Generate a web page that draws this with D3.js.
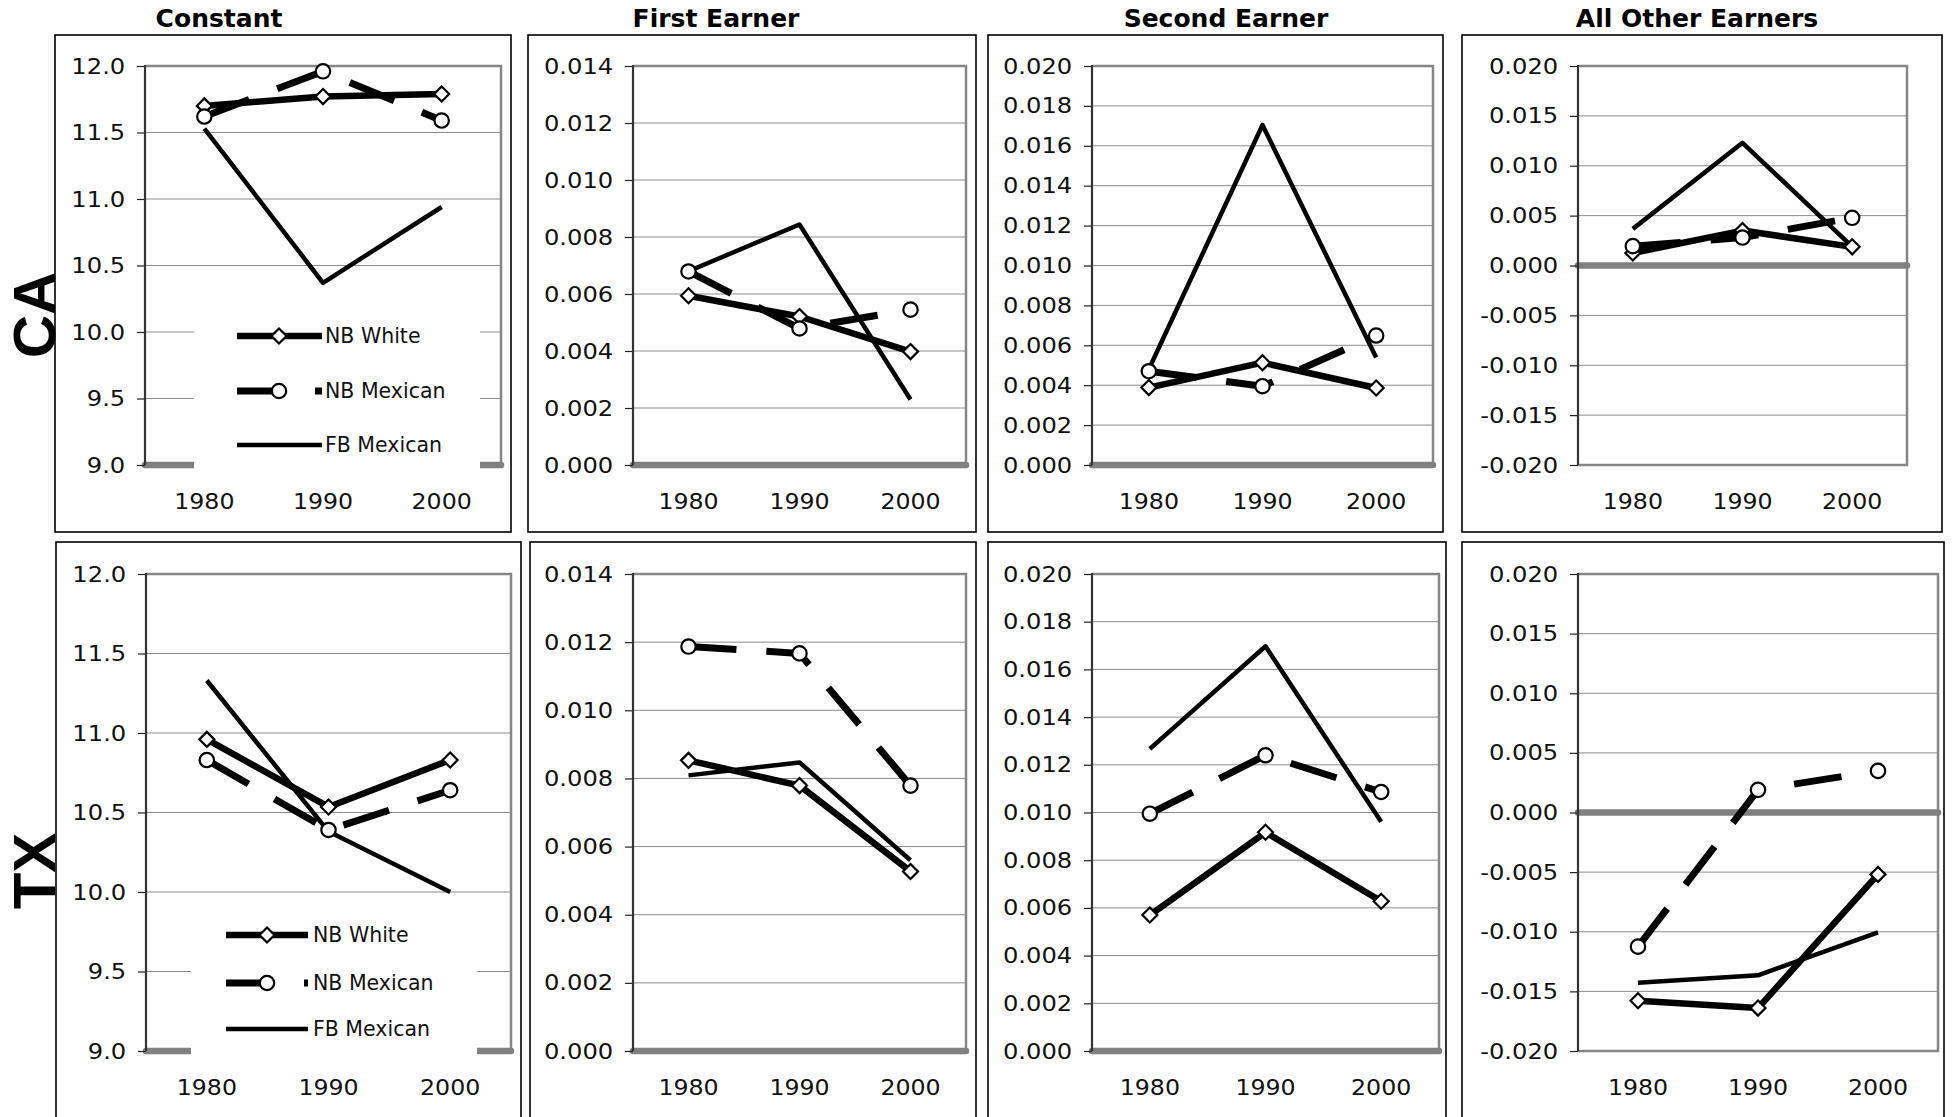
<!DOCTYPE html>
<html><head><meta charset="utf-8">
<script src="https://cdn.jsdelivr.net/npm/d3@7"></script>
<style>
html,body{margin:0;padding:0;background:#fff;}
svg{display:block;}
</style></head><body>
<svg id="chart" width="1954" height="1117"></svg>
<script>
// ---------- DATA ----------
const years = ["1980", "1990", "2000"];
const seriesNames = ["NB White", "NB Mexican", "FB Mexican"];
const panelTitles = ["Constant", "First Earner", "Second Earner", "All Other Earners"];
const states = ["CA", "TX"];
const yDomains = [[9, 12], [0, 0.014], [0, 0.020], [-0.020, 0.020]];
const yTickSteps = [0.5, 0.002, 0.002, 0.005];
const yTickDecimals = [1, 3, 3, 3];

// each: [Constant, First Earner, Second Earner, All Other Earners], values for 1980, 1990, 2000
const caNBWhite   = [[11.70, 11.77, 11.79], [0.00594, 0.00521, 0.00398], [0.00388, 0.00513, 0.00386], [0.00125, 0.00350, 0.00187]];
const caNBMexican = [[11.62, 11.96, 11.59], [0.00679, 0.00479, 0.00545], [0.00470, 0.00395, 0.00649], [0.00194, 0.00280, 0.00478]];
const caFBMexican = [[11.53, 10.37, 10.94], [0.00680, 0.00844, 0.00230], [0.00480, 0.01704, 0.00539], [0.00367, 0.01230, 0.00190]];
const txNBWhite   = [[10.96, 10.535, 10.83], [0.00853, 0.00779, 0.00527], [0.00570, 0.00917, 0.00628], [-0.01578, -0.01640, -0.00519]];
const txNBMexican = [[10.83, 10.39, 10.64], [0.01187, 0.01167, 0.00779], [0.00995, 0.01240, 0.01086], [-0.01125, 0.00190, 0.00349]];
const txFBMexican = [[11.33, 10.38, 10.00], [0.00809, 0.00847, 0.00560], [0.01267, 0.01697, 0.00961], [-0.01428, -0.01365, -0.01006]];

// ---------- LAYOUT ----------
const rows = [
  {boxTop: 35, boxBottom: 532, plotTop: 66, plotBottom: 465, labelY: 509, stateY: 315,
   cols: [{box: [55, 511], plot: [145, 501], title: 219},
          {box: [528, 976], plot: [633, 966], title: 716},
          {box: [988, 1443], plot: [1092, 1433], title: 1226},
          {box: [1462, 1942], plot: [1578, 1907], title: 1697}],
   legend: {x0: 194, x1: 480, y0: 309, y1: 470, itemY: [336, 391, 445], lineX: [237, 322], markX: 279, textX: 325}},
  {boxTop: 542, boxBottom: 1140, plotTop: 574, plotBottom: 1051, labelY: 1095, stateY: 871,
   cols: [{box: [56, 521], plot: [146, 511]},
          {box: [530, 976], plot: [633, 966]},
          {box: [988, 1446], plot: [1092, 1439]},
          {box: [1462, 1944], plot: [1578, 1938]}],
   legend: {x0: 191, x1: 477, y0: 911, y1: 1057, itemY: [935, 983, 1029], lineX: [226, 308], markX: 267, textX: 313}}
];
const styles = [
  {w: 6.5, dash: null, marker: "diamond"},
  {w: 7, dash: "48,30", marker: "circle"},
  {w: 4.5, dash: null, marker: null}
];
const FONT = "'DejaVu Sans', Verdana, sans-serif";
const SX = 1.1;
const dataByState = [[caNBWhite, caNBMexican, caFBMexican], [txNBWhite, txNBMexican, txFBMexican]];

const svg = d3.select("#chart");

function drawMarker(sel, type, cx, cy) {
  if (type === "diamond") {
    sel.append("path").attr("d", "M0,-7.5L7.5,0L0,7.5L-7.5,0Z")
      .attr("transform", `translate(${cx},${cy})`)
      .attr("fill", "#fff").attr("stroke", "#000").attr("stroke-width", 2.2);
  } else if (type === "circle") {
    sel.append("circle").attr("cx", cx).attr("cy", cy).attr("r", 7.2)
      .attr("fill", "#fff").attr("stroke", "#000").attr("stroke-width", 2.2);
  }
}

// titles
rows[0].cols.forEach((c, i) => {
  svg.append("text").attr("x", c.title).attr("y", 27)
    .attr("text-anchor", "middle").attr("font-family", FONT).attr("font-weight", "bold")
    .attr("font-size", 25).attr("fill", "#000").text(panelTitles[i]);
});

rows.forEach((r, ri) => {
  // state label
  svg.append("text").attr("transform", `translate(55,${r.stateY}) rotate(-90)`)
    .attr("text-anchor", "middle").attr("font-family", "'Liberation Sans', Arial, sans-serif")
    .attr("font-weight", "bold").attr("font-size", 60).attr("fill", "#000").text(states[ri]);

  r.cols.forEach((c, pi) => {
    const g = svg.append("g");
    g.append("rect").attr("x", c.box[0]).attr("y", r.boxTop)
      .attr("width", c.box[1] - c.box[0]).attr("height", r.boxBottom - r.boxTop)
      .attr("fill", "none").attr("stroke", "#000").attr("stroke-width", 1.6);

    const x = d3.scalePoint().domain(years).range(c.plot).padding(0.5);
    const [lo, hi] = yDomains[pi];
    const st = yTickSteps[pi];
    const y = d3.scaleLinear().domain([lo, hi]).range([r.plotBottom, r.plotTop]);
    const ticks = d3.range(Math.round((hi - lo) / st) + 1).map(i => lo + i * st);

    // gridlines
    g.append("g").selectAll("line").data(ticks.slice(1, -1)).join("line")
      .attr("x1", c.plot[0]).attr("x2", c.plot[1])
      .attr("y1", d => y(d)).attr("y2", d => y(d))
      .attr("stroke", "#8c8c8c").attr("stroke-width", 1);
    // plot area border (top, right, bottom)
    g.append("path")
      .attr("d", `M${c.plot[0]},${r.plotTop}H${c.plot[1]}V${r.plotBottom}H${c.plot[0]}`)
      .attr("fill", "none").attr("stroke", "#868686").attr("stroke-width", 2.5);
    // category axis (thick gray)
    const base = Math.max(lo, 0);
    g.append("line").attr("x1", c.plot[0]).attr("x2", c.plot[1])
      .attr("y1", y(base)).attr("y2", y(base))
      .attr("stroke", "#808080").attr("stroke-width", 6.5).attr("stroke-linecap", "round");

    // y axis
    const ax = d3.axisLeft(y).tickValues(ticks).tickSize(8).tickPadding(10)
      .tickFormat(d => d.toFixed(yTickDecimals[pi]));
    const ag = g.append("g").attr("transform", `translate(${c.plot[0]},0)`).call(ax);
    ag.select(".domain").remove();
    ag.selectAll(".tick line").attr("stroke", "#222").attr("stroke-width", 1.2);
    ag.selectAll(".tick text").attr("font-family", FONT).attr("font-size", 22)
      .attr("fill", "#111").attr("transform", `scale(${SX},1)`);
    ag.attr("font-family", null).attr("font-size", null);
    g.append("line").attr("x1", c.plot[0]).attr("x2", c.plot[0])
      .attr("y1", r.plotTop - 1).attr("y2", r.plotBottom)
      .attr("stroke", "#333").attr("stroke-width", 2.2);

    // x labels
    g.append("g").selectAll("text").data(years).join("text")
      .attr("transform", d => `translate(${x(d)},${r.labelY}) scale(${SX},1)`)
      .attr("text-anchor", "middle").attr("font-family", FONT).attr("font-size", 21.5)
      .attr("fill", "#111").text(d => d);

    // series lines
    const line = d3.line().x((d, i) => x(years[i])).y(d => y(d));
    const sdata = dataByState[ri];
    sdata.forEach((s, si) => {
      g.append("path").attr("d", line(s[pi])).attr("fill", "none")
        .attr("stroke", "#000").attr("stroke-width", styles[si].w)
        .attr("stroke-dasharray", styles[si].dash)
        .attr("stroke-linejoin", "round").attr("stroke-linecap", "butt");
    });
    // markers
    sdata.forEach((s, si) => {
      if (!styles[si].marker) return;
      s[pi].forEach((v, i) => drawMarker(g, styles[si].marker, x(years[i]), y(v)));
    });

    // legend (first column)
    if (pi === 0) {
      const L = r.legend;
      const lg = svg.append("g");
      lg.append("rect").attr("x", L.x0).attr("y", L.y0)
        .attr("width", L.x1 - L.x0).attr("height", L.y1 - L.y0).attr("fill", "#fff");
      seriesNames.forEach((name, si) => {
        const yy = L.itemY[si];
        lg.append("line").attr("x1", L.lineX[0]).attr("x2", L.lineX[1])
          .attr("y1", yy).attr("y2", yy).attr("stroke", "#000")
          .attr("stroke-width", styles[si].w).attr("stroke-dasharray", styles[si].dash);
        drawMarker(lg, styles[si].marker, L.markX, yy);
        lg.append("text").attr("x", L.textX).attr("y", yy).attr("dy", "0.36em")
          .attr("font-family", FONT).attr("font-size", 20.5).attr("fill", "#111").text(name);
      });
    }
  });
});
</script>
</body></html>
